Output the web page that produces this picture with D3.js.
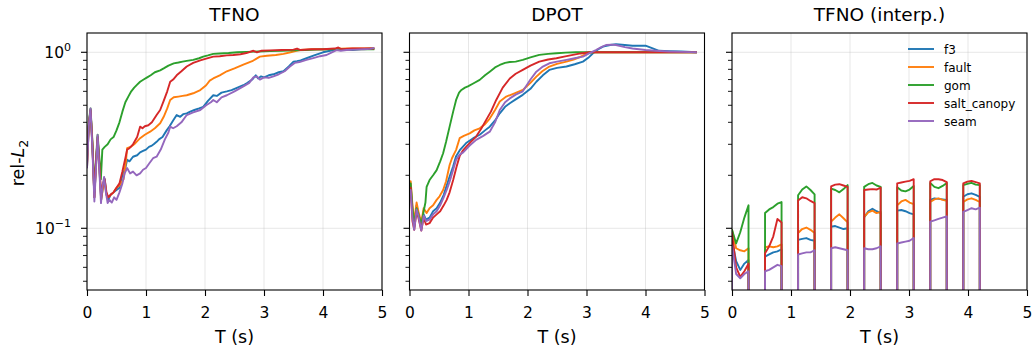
<!DOCTYPE html>
<html>
<head>
<meta charset="utf-8">
<script src="https://cdn.jsdelivr.net/npm/d3@7"></script>
<style>
body{margin:0;background:#fff;}
svg{font-family:"DejaVu Sans",sans-serif;}
</style>
</head>
<body>
<svg id="chart" width="1032" height="350"></svg>
<script>
// series names and colours
var seriesNames=["f3","fault","gom","salt_canopy","seam"];
var seriesColors=["#1f77b4","#ff7f0e","#2ca02c","#d62728","#9467bd"];
var panelTitles=["TFNO","DPOT","TFNO (interp.)"];
var xTicks=[0,1,2,3,4,5];
var yMajor=[0.1,1];
var yMinor=[0.05,0.06,0.07,0.08,0.09,0.2,0.3,0.4,0.5,0.6,0.7,0.8,0.9];
var yLabels=[["10","\u22121"],["10","0"]];

// TFNO  [t, rel-L2]
var tfnoF3=[[0.00,0.22],[0.03,0.38],[0.06,0.47],[0.09,0.30],[0.125,0.15],[0.15,0.22],[0.18,0.33],[0.21,0.22],[0.24,0.145],[0.27,0.17],[0.30,0.19],[0.33,0.155],[0.36,0.145],[0.40,0.155],[0.45,0.16],[0.50,0.165],[0.55,0.17],[0.60,0.20],[0.65,0.22],[0.68,0.245],[0.72,0.24],[0.78,0.255],[0.85,0.26],[0.90,0.27],[0.95,0.275],[1.00,0.28],[1.05,0.29],[1.10,0.295],[1.13,0.30],[1.18,0.31],[1.22,0.32],[1.28,0.33],[1.35,0.36],[1.40,0.38],[1.46,0.41],[1.52,0.44],[1.58,0.43],[1.63,0.445],[1.69,0.45],[1.75,0.46],[1.82,0.47],[1.90,0.48],[1.97,0.49],[2.05,0.53],[2.14,0.57],[2.20,0.565],[2.28,0.59],[2.37,0.60],[2.45,0.61],[2.55,0.63],[2.65,0.65],[2.72,0.67],[2.80,0.70],[2.86,0.74],[2.90,0.71],[2.95,0.73],[3.00,0.72],[3.08,0.74],[3.16,0.75],[3.25,0.77],[3.33,0.78],[3.42,0.83],[3.50,0.885],[3.56,0.89],[3.62,0.90],[3.72,0.925],[3.85,0.96],[4.00,1.00],[4.12,1.02],[4.23,1.04],[4.30,1.03],[4.40,1.04],[4.50,1.03],[4.60,1.04],[4.70,1.045],[4.80,1.05],[4.87,1.05]];
var tfnoFault=[[0.00,0.22],[0.03,0.38],[0.06,0.46],[0.09,0.30],[0.125,0.15],[0.15,0.22],[0.18,0.32],[0.21,0.22],[0.24,0.145],[0.27,0.17],[0.30,0.185],[0.33,0.155],[0.36,0.15],[0.40,0.155],[0.45,0.16],[0.50,0.17],[0.55,0.175],[0.62,0.19],[0.66,0.24],[0.68,0.285],[0.74,0.29],[0.80,0.30],[0.90,0.325],[0.98,0.34],[1.07,0.354],[1.15,0.37],[1.24,0.395],[1.30,0.43],[1.36,0.48],[1.41,0.536],[1.47,0.555],[1.55,0.56],[1.62,0.565],[1.69,0.57],[1.80,0.585],[1.92,0.61],[2.02,0.65],[2.08,0.69],[2.14,0.71],[2.25,0.74],[2.37,0.78],[2.50,0.81],[2.65,0.85],[2.80,0.89],[2.93,0.945],[3.05,0.955],[3.20,0.965],[3.33,0.98],[3.45,1.0],[3.55,1.02],[3.61,1.03],[3.70,1.035],[3.85,1.04],[4.00,1.04],[4.20,1.045],[4.40,1.05],[4.60,1.05],[4.87,1.05]];
var tfnoGom=[[0.00,0.25],[0.03,0.40],[0.06,0.48],[0.09,0.32],[0.125,0.16],[0.15,0.24],[0.18,0.34],[0.21,0.25],[0.235,0.19],[0.26,0.28],[0.30,0.29],[0.35,0.30],[0.40,0.32],[0.45,0.33],[0.50,0.36],[0.55,0.40],[0.60,0.46],[0.65,0.52],[0.70,0.56],[0.75,0.60],[0.80,0.63],[0.85,0.655],[0.90,0.68],[0.96,0.70],[1.02,0.72],[1.08,0.74],[1.15,0.77],[1.24,0.79],[1.30,0.81],[1.38,0.84],[1.47,0.865],[1.55,0.875],[1.62,0.885],[1.69,0.893],[1.80,0.905],[1.90,0.925],[1.97,0.945],[2.05,0.96],[2.14,0.98],[2.25,0.985],[2.40,0.99],[2.55,1.00],[2.70,1.005],[2.90,1.01],[3.10,1.015],[3.30,1.02],[3.50,1.025],[3.70,1.03],[3.90,1.035],[4.10,1.04],[4.30,1.04],[4.50,1.04],[4.70,1.04],[4.87,1.04]];
var tfnoSalt=[[0.00,0.23],[0.03,0.39],[0.06,0.47],[0.09,0.31],[0.125,0.15],[0.15,0.23],[0.18,0.33],[0.21,0.23],[0.24,0.15],[0.27,0.18],[0.30,0.19],[0.33,0.16],[0.36,0.15],[0.40,0.155],[0.45,0.16],[0.50,0.17],[0.55,0.18],[0.60,0.21],[0.65,0.25],[0.68,0.28],[0.72,0.285],[0.78,0.30],[0.85,0.33],[0.90,0.378],[0.94,0.37],[0.98,0.38],[1.04,0.385],[1.10,0.40],[1.18,0.44],[1.24,0.47],[1.30,0.53],[1.36,0.60],[1.41,0.68],[1.46,0.70],[1.52,0.74],[1.60,0.78],[1.69,0.83],[1.80,0.87],[1.92,0.90],[2.02,0.92],[2.14,0.945],[2.25,0.95],[2.37,0.96],[2.48,0.966],[2.60,0.975],[2.70,0.99],[2.82,1.02],[2.88,1.0],[2.95,1.02],[3.10,1.025],[3.30,1.03],[3.50,1.035],[3.56,1.05],[3.62,1.03],[3.80,1.04],[4.00,1.04],[4.20,1.05],[4.26,1.065],[4.32,1.04],[4.50,1.05],[4.70,1.05],[4.87,1.05]];
var tfnoSeam=[[0.00,0.219],[0.03,0.38],[0.06,0.48],[0.09,0.29],[0.125,0.142],[0.15,0.21],[0.18,0.339],[0.21,0.21],[0.237,0.139],[0.26,0.17],[0.29,0.196],[0.32,0.16],[0.35,0.139],[0.38,0.145],[0.42,0.14],[0.46,0.15],[0.50,0.145],[0.55,0.16],[0.60,0.18],[0.64,0.206],[0.68,0.22],[0.73,0.205],[0.78,0.21],[0.84,0.20],[0.90,0.205],[0.95,0.215],[1.00,0.22],[1.06,0.235],[1.12,0.25],[1.18,0.255],[1.25,0.28],[1.32,0.32],[1.38,0.35],[1.41,0.378],[1.46,0.37],[1.52,0.38],[1.60,0.40],[1.69,0.44],[1.80,0.455],[1.92,0.47],[2.02,0.50],[2.10,0.52],[2.14,0.536],[2.20,0.52],[2.28,0.555],[2.37,0.57],[2.50,0.60],[2.65,0.64],[2.75,0.67],[2.82,0.72],[2.88,0.73],[2.93,0.70],[3.00,0.72],[3.08,0.715],[3.16,0.73],[3.25,0.75],[3.35,0.78],[3.44,0.83],[3.52,0.87],[3.60,0.88],[3.72,0.905],[3.85,0.93],[3.95,0.95],[4.06,0.965],[4.15,1.0],[4.23,1.03],[4.30,1.02],[4.40,1.03],[4.55,1.035],[4.70,1.04],[4.80,1.045],[4.87,1.06]];

// DPOT
var dpotF3=[[0.00,0.17],[0.02,0.175],[0.05,0.125],[0.08,0.102],[0.12,0.135],[0.15,0.12],[0.20,0.1],[0.24,0.12],[0.28,0.112],[0.34,0.115],[0.40,0.125],[0.46,0.13],[0.52,0.14],[0.58,0.155],[0.63,0.175],[0.68,0.197],[0.74,0.225],[0.79,0.257],[0.86,0.28],[0.96,0.305],[1.08,0.325],[1.19,0.34],[1.28,0.36],[1.36,0.378],[1.45,0.41],[1.53,0.45],[1.62,0.49],[1.70,0.513],[1.80,0.54],[1.92,0.573],[2.05,0.62],[2.15,0.68],[2.26,0.74],[2.37,0.794],[2.50,0.815],[2.66,0.83],[2.80,0.855],[2.94,0.885],[3.03,0.93],[3.11,0.987],[3.20,1.04],[3.28,1.077],[3.40,1.10],[3.50,1.11],[3.65,1.10],[3.78,1.09],[3.90,1.09],[4.00,1.09],[4.10,1.06],[4.23,1.02],[4.40,1.015],[4.60,1.01],[4.87,1.0]];
var dpotFault=[[0.00,0.18],[0.02,0.185],[0.05,0.135],[0.08,0.11],[0.12,0.14],[0.15,0.125],[0.20,0.108],[0.24,0.13],[0.29,0.122],[0.34,0.13],[0.40,0.135],[0.46,0.145],[0.51,0.152],[0.57,0.165],[0.62,0.185],[0.68,0.229],[0.72,0.25],[0.79,0.279],[0.85,0.325],[0.92,0.335],[1.02,0.346],[1.10,0.36],[1.19,0.37],[1.28,0.39],[1.36,0.42],[1.45,0.47],[1.53,0.525],[1.64,0.56],[1.78,0.585],[1.92,0.611],[2.05,0.67],[2.15,0.727],[2.25,0.78],[2.37,0.83],[2.50,0.86],[2.66,0.885],[2.78,0.91],[2.88,0.937],[2.97,0.97],[3.05,1.0],[4.0,1.0],[4.87,1.0]];
var dpotGom=[[0.00,0.17],[0.02,0.18],[0.05,0.13],[0.08,0.105],[0.12,0.13],[0.15,0.12],[0.20,0.105],[0.24,0.125],[0.27,0.14],[0.29,0.172],[0.34,0.188],[0.40,0.20],[0.46,0.214],[0.52,0.24],[0.57,0.267],[0.62,0.31],[0.68,0.378],[0.74,0.46],[0.79,0.536],[0.84,0.59],[0.88,0.611],[0.94,0.63],[0.99,0.64],[1.08,0.665],[1.19,0.697],[1.28,0.74],[1.36,0.776],[1.45,0.82],[1.53,0.847],[1.62,0.87],[1.70,0.88],[1.80,0.885],[1.92,0.905],[2.05,0.935],[2.20,0.966],[2.35,0.98],[2.49,0.987],[2.65,0.995],[2.82,1.0],[3.2,1.0],[4.0,1.0],[4.87,1.0]];
var dpotSalt=[[0.00,0.16],[0.02,0.17],[0.05,0.11],[0.08,0.098],[0.12,0.125],[0.15,0.115],[0.20,0.097],[0.24,0.115],[0.28,0.105],[0.34,0.107],[0.40,0.115],[0.46,0.12],[0.52,0.125],[0.58,0.135],[0.63,0.145],[0.68,0.16],[0.74,0.188],[0.80,0.225],[0.85,0.257],[0.90,0.275],[0.96,0.29],[1.04,0.31],[1.13,0.332],[1.22,0.37],[1.30,0.413],[1.38,0.46],[1.47,0.536],[1.58,0.63],[1.70,0.71],[1.80,0.755],[1.92,0.794],[2.05,0.84],[2.20,0.885],[2.35,0.91],[2.49,0.925],[2.62,0.945],[2.77,0.966],[2.90,0.985],[3.05,1.0],[4.0,1.0],[4.87,1.0]];
var dpotSeam=[[0.00,0.16],[0.02,0.165],[0.05,0.115],[0.08,0.098],[0.12,0.128],[0.15,0.118],[0.20,0.097],[0.24,0.118],[0.28,0.11],[0.34,0.112],[0.40,0.12],[0.46,0.125],[0.52,0.135],[0.58,0.15],[0.63,0.165],[0.68,0.184],[0.74,0.215],[0.79,0.245],[0.85,0.262],[0.91,0.27],[1.02,0.295],[1.13,0.318],[1.25,0.335],[1.36,0.354],[1.45,0.40],[1.53,0.47],[1.62,0.52],[1.70,0.547],[1.80,0.575],[1.92,0.60],[2.05,0.70],[2.15,0.776],[2.26,0.83],[2.37,0.866],[2.50,0.885],[2.66,0.905],[2.80,0.925],[2.94,0.945],[3.05,0.99],[3.16,1.03],[3.25,1.07],[3.33,1.10],[3.42,1.105],[3.50,1.10],[3.65,1.07],[3.78,1.05],[4.00,1.03],[4.17,1.02],[4.40,1.01],[4.60,1.005],[4.87,1.0]];

// TFNO (interp.): windows of known frames, values sampled at 5 times inside each window
var interpStarts=[0,0.56,1.12,1.68,2.24,2.80,3.36,3.92];
var interpOffsets=[0,0.07,0.14,0.21,0.28];
var interpFloor=0.01;
var interpF3=[[0.086,0.065,0.058,0.063,0.066],[0.069,0.071,0.073,0.074,0.076],[0.086,0.087,0.088,0.086,0.085],[0.102,0.103,0.101,0.099,0.1],[0.115,0.125,0.129,0.125,0.122],[0.126,0.127,0.125,0.122,0.12],[0.145,0.148,0.147,0.146,0.145],[0.151,0.156,0.158,0.155,0.151]];
var interpFault=[[0.098,0.077,0.075,0.074,0.077],[0.078,0.079,0.078,0.079,0.081],[0.094,0.099,0.101,0.098,0.094],[0.109,0.115,0.12,0.114,0.108],[0.116,0.123,0.126,0.122,0.124],[0.135,0.142,0.145,0.14,0.137],[0.141,0.146,0.148,0.145,0.143],[0.141,0.146,0.148,0.145,0.141]];
var interpGom=[[0.098,0.082,0.095,0.115,0.135],[0.122,0.128,0.132,0.138,0.141],[0.154,0.166,0.173,0.165,0.156],[0.168,0.165,0.16,0.167,0.176],[0.172,0.178,0.181,0.175,0.172],[0.171,0.164,0.162,0.166,0.174],[0.181,0.172,0.169,0.174,0.181],[0.176,0.179,0.181,0.177,0.176]];
var interpSalt=[[0.094,0.06,0.053,0.057,0.063],[0.072,0.079,0.09,0.113,0.108],[0.144,0.15,0.148,0.143,0.139],[0.173,0.177,0.178,0.175,0.172],[0.165,0.166,0.167,0.166,0.17],[0.18,0.182,0.184,0.186,0.19],[0.185,0.19,0.19,0.188,0.183],[0.18,0.184,0.186,0.183,0.18]];
var interpSeam=[[0.08,0.055,0.052,0.055,0.057],[0.057,0.058,0.06,0.062,0.061],[0.071,0.072,0.073,0.073,0.075],[0.077,0.078,0.077,0.076,0.075],[0.077,0.076,0.076,0.077,0.079],[0.082,0.083,0.084,0.085,0.088],[0.109,0.111,0.113,0.115,0.117],[0.124,0.127,0.13,0.128,0.131]];

var toPoints=function(segs)
{
	var pts=[];
	for(var i=0;i<segs.length;i++)
	{
		var s=interpStarts[i];
		pts.push([s,interpFloor]);
		for(var k=0;k<segs[i].length;k++)pts.push([s+interpOffsets[k],segs[i][k]]);
		pts.push([s+interpOffsets[interpOffsets.length-1],interpFloor]);
	}
	return pts;
};

var panelData=[
	[tfnoF3,tfnoFault,tfnoGom,tfnoSalt,tfnoSeam],
	[dpotF3,dpotFault,dpotGom,dpotSalt,dpotSeam],
	[toPoints(interpF3),toPoints(interpFault),toPoints(interpGom),toPoints(interpSalt),toPoints(interpSeam)]
];

var svg=d3.select("#chart");
var panelLeft=[87,409.5,732], panelW=295, plotTop=33, plotBottom=290;
var y=d3.scaleLog().domain([0.0446,1.287]).range([plotBottom,plotTop]);

panelLeft.forEach(function(left,p)
{
	var x=d3.scaleLinear().domain([0,5]).range([left,left+panelW]);
	var g=svg.append("g");

	g.append("clipPath").attr("id","clip"+p)
		.append("rect").attr("x",left).attr("y",plotTop).attr("width",panelW).attr("height",plotBottom-plotTop);

	// grid
	g.selectAll(".gx").data(xTicks).enter().append("line")
		.attr("x1",function(d){return x(d)}).attr("x2",function(d){return x(d)})
		.attr("y1",plotTop).attr("y2",plotBottom)
		.style("stroke","#b0b0b0").style("stroke-opacity",0.3).style("stroke-width",1);
	g.selectAll(".gy").data(yMajor).enter().append("line")
		.attr("x1",left).attr("x2",left+panelW)
		.attr("y1",function(d){return y(d)}).attr("y2",function(d){return y(d)})
		.style("stroke","#b0b0b0").style("stroke-opacity",0.3).style("stroke-width",1);

	// lines
	var line=d3.line().x(function(d){return x(d[0])}).y(function(d){return y(d[1])});
	g.append("g").attr("clip-path","url(#clip"+p+")")
		.selectAll("path").data(panelData[p]).enter().append("path")
		.attr("d",line)
		.style("fill","none")
		.style("stroke",function(d,i){return seriesColors[i]})
		.style("stroke-width",1.9)
		.style("stroke-linejoin","round");

	// x axis
	var xa=g.append("g").attr("transform","translate(0,"+plotBottom+")")
		.call(d3.axisBottom(x).tickValues(xTicks).tickFormat(d3.format("d")).tickSize(6));
	xa.select(".domain").remove();
	xa.selectAll("line").style("stroke","#000").style("stroke-width",1.1);
	xa.selectAll("text").attr("y",27.5).attr("dy",null)
		.style("font-size","15.5px").style("fill","#000").attr("font-family","DejaVu Sans");

	// y ticks
	var ya=g.append("g").attr("transform","translate("+left+",0)");
	ya.selectAll(".maj").data(yMajor).enter().append("line")
		.attr("x1",-6).attr("x2",0).attr("y1",function(d){return y(d)}).attr("y2",function(d){return y(d)})
		.style("stroke","#000").style("stroke-width",1.1);
	ya.selectAll(".min").data(yMinor).enter().append("line")
		.attr("x1",-4).attr("x2",0).attr("y1",function(d){return y(d)}).attr("y2",function(d){return y(d)})
		.style("stroke","#000").style("stroke-width",0.9);
	if(p==0)
	{
		var lab=ya.selectAll("text").data(yMajor).enter().append("text")
			.attr("x",-16).attr("y",function(d){return y(d)+5.5})
			.attr("text-anchor","end").style("font-size","15.5px");
		lab.append("tspan").text(function(d,i){return yLabels[i][0]});
		lab.append("tspan").attr("dy",-6.5).style("font-size","11px").text(function(d,i){return yLabels[i][1]});
	}

	// frame
	g.append("rect").attr("x",left).attr("y",plotTop).attr("width",panelW).attr("height",plotBottom-plotTop)
		.style("fill","none").style("stroke","#000").style("stroke-width",1.1);

	g.append("text").attr("x",left+panelW/2).attr("y",21).attr("text-anchor","middle")
		.style("font-size","18.5px").text(panelTitles[p]);
	g.append("text").attr("x",left+panelW/2).attr("y",342.5).attr("text-anchor","middle")
		.style("font-size","17.5px").text("T (s)");
});

// y label
var yl=svg.append("text").attr("transform","translate(24,163) rotate(-90)")
	.attr("text-anchor","middle").style("font-size","17.5px");
yl.append("tspan").text("rel-");
yl.append("tspan").style("font-style","italic").text("L");
yl.append("tspan").attr("dy",4).style("font-size","12.5px").text("2");

// legend
var legend=svg.append("g").selectAll("g").data(seriesNames).enter().append("g")
	.attr("transform",function(d,i){return "translate(908,"+(49+i*18)+")"});
legend.append("line").attr("x1",0).attr("x2",26).attr("y1",0).attr("y2",0)
	.style("stroke",function(d,i){return seriesColors[i]}).style("stroke-width",1.9);
legend.append("text").attr("x",36).attr("y",4.5).style("font-size","12px").text(function(d){return d});
</script>
</body>
</html>
